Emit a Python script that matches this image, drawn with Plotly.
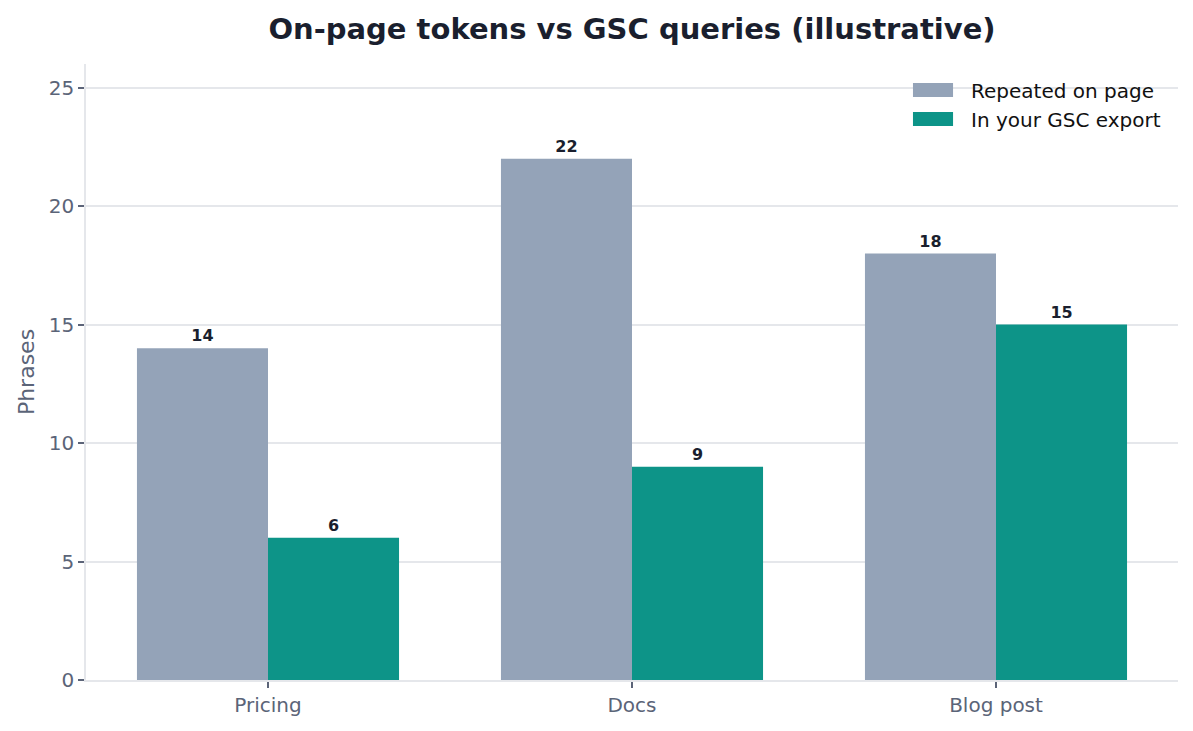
import plotly.graph_objects as go

pages = ['Pricing', 'Docs', 'Blog post']
repeated_on_page = [14, 22, 18]
in_gsc_export = [6, 9, 15]

grey = '#94a3b8'
teal = '#0d9488'
dark = '#1a1f2e'
muted = '#5b6478'

label_font = dict(family='DejaVu Sans', size=16, color=dark, weight='bold')

fig = go.Figure()
fig.add_trace(go.Bar(x=pages, y=repeated_on_page, name='Repeated on page',
                     marker=dict(color=grey, line=dict(width=0)),
                     text=repeated_on_page, textposition='outside', cliponaxis=False,
                     textfont=label_font))
fig.add_trace(go.Bar(x=pages, y=in_gsc_export, name='In your GSC export',
                     marker=dict(color=teal, line=dict(width=0)),
                     text=in_gsc_export, textposition='outside', cliponaxis=False,
                     textfont=label_font))

# legend drawn by hand so the swatches are wide like the original
legend_items = [('Repeated on page', grey, 0.9692, 0.9464),
                ('In your GSC export', teal, 0.9221, 0.8994)]
for name, colour, top, bottom in legend_items:
    fig.add_shape(type='rect', xref='paper', yref='paper', x0=0.7573, x1=0.794,
                  y0=bottom, y1=top, fillcolor=colour, line=dict(width=0))
    fig.add_annotation(xref='paper', yref='paper', x=0.8086, y=(top + bottom) / 2 - 0.002,
                       xanchor='left', yanchor='middle', showarrow=False, text=name,
                       font=dict(size=20, color='#111111'))

# the page body has an 8px margin, so the figure is 16px smaller than the window
fig.update_layout(
    width=1177, height=715,
    barmode='group', bargap=0.28, bargroupgap=0,
    showlegend=False,
    title=dict(text='<b>On-page tokens vs GSC queries (illustrative)</b>', xref='paper', x=0.5,
               xanchor='center', y=0.9706, yanchor='middle',
               font=dict(family='DejaVu Sans', size=29, color=dark)),
    font=dict(family='DejaVu Sans', color=muted, size=20),
    plot_bgcolor='white', paper_bgcolor='white',
    margin=dict(l=78, r=7, t=56, b=43),
    xaxis=dict(range=[-0.5, 2.5], showgrid=False, showline=True, linecolor='#e5e7eb', linewidth=1.5,
               ticks='outside', ticklen=6, tickcolor=muted, tickwidth=1.5,
               tickfont=dict(size=20, color=muted)),
    yaxis=dict(range=[0, 26], dtick=5, showgrid=True, gridcolor='#e5e7eb', gridwidth=1.5,
               zeroline=False, showline=True, linecolor='#e5e7eb', linewidth=1.5,
               ticks='outside', ticklen=6, tickcolor=muted, tickwidth=1.5,
               tickfont=dict(size=20, color=muted),
               title=dict(text='Phrases', font=dict(size=22, color=muted), standoff=8)),
)

fig.write_html('out.html')
